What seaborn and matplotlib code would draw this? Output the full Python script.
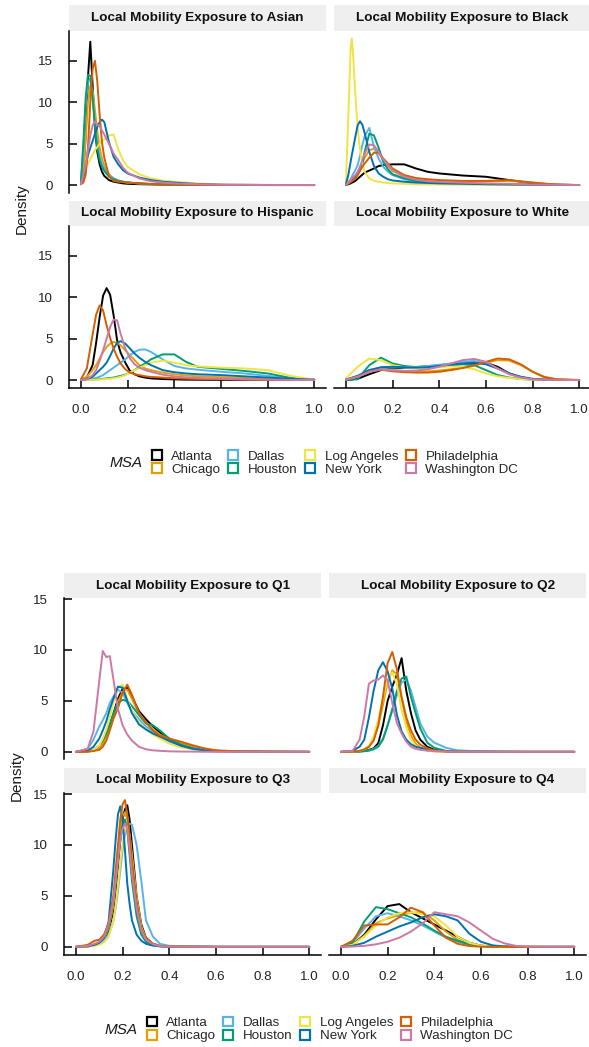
import numpy as np
import pandas as pd
import matplotlib
matplotlib.use("Agg")
import matplotlib.pyplot as plt
from matplotlib.patches import Patch
import seaborn as sns

# ---- data (density values at x positions) ------------------------------------
MSAS = ["Atlanta", "Chicago", "Dallas", "Houston", "Log Angeles",
        "New York", "Philadelphia", "Washington DC"]
COLORS = ["#000000", "#E69F00", "#56B4E9", "#009E73", "#F0E442",
          "#0072B2", "#D55E00", "#CC79A7"]

ASIAN_X = [0, 0.01, 0.02, 0.03, 0.04, 0.05, 0.06, 0.07, 0.08, 0.09, 0.10, 0.12,
           0.14, 0.16, 0.18, 0.20, 0.25, 0.30, 0.35, 0.40, 0.50, 0.60, 0.80, 1.00]
ASIAN = {
    "Atlanta":       [0.2, 1.5, 6, 13, 17.3, 12, 7, 4, 2.5, 1.6, 1.1, 0.6, 0.4, 0.3, 0.2, 0.15, 0.1, 0.08, 0.05, 0.04, 0.02, 0.01, 0, 0],
    "Chicago":       [0.2, 1.5, 5.5, 10, 12, 11.5, 9, 6.5, 4.5, 3.2, 2.3, 1.3, 0.8, 0.55, 0.4, 0.3, 0.2, 0.12, 0.08, 0.05, 0.02, 0.01, 0, 0],
    "Dallas":        [0.4, 4, 9.5, 12.5, 12.8, 10.5, 7.5, 5, 3.5, 2.6, 2, 1.2, 0.8, 0.55, 0.4, 0.3, 0.2, 0.12, 0.08, 0.05, 0.02, 0.01, 0, 0],
    "Houston":       [0.5, 5, 10.5, 13.3, 13.2, 10.5, 7, 4.5, 3, 2.2, 1.7, 1.0, 0.7, 0.5, 0.4, 0.3, 0.2, 0.12, 0.08, 0.05, 0.02, 0.01, 0, 0],
    "Log Angeles":   [0.1, 0.8, 1.8, 2.6, 3.1, 3.7, 4.2, 4.6, 5, 5.3, 5.5, 6, 6.1, 4.3, 3.0, 2.2, 1.3, 0.8, 0.55, 0.4, 0.2, 0.05, 0.01, 0],
    "New York":      [0.1, 0.8, 2.2, 3.6, 4.5, 5.3, 6.2, 7, 7.6, 7.9, 7.6, 5.2, 3.4, 2.5, 1.8, 1.4, 0.9, 0.6, 0.4, 0.3, 0.12, 0.04, 0.01, 0],
    "Philadelphia":  [0.1, 0.3, 1.2, 4.5, 10, 14, 15, 12.5, 8.5, 5.2, 3.3, 1.1, 0.5, 0.4, 0.35, 0.3, 0.2, 0.12, 0.08, 0.05, 0.02, 0.01, 0, 0],
    "Washington DC": [0.1, 1.2, 2.5, 4.2, 6, 7.2, 7.7, 7.3, 7.1, 6.6, 6.1, 5, 3.8, 3, 2.1, 1.5, 0.8, 0.45, 0.3, 0.2, 0.1, 0.04, 0.01, 0],
}

BLACK_X = [0, 0.01, 0.02, 0.025, 0.03, 0.04, 0.05, 0.06, 0.07, 0.08, 0.10, 0.12, 0.14,
           0.16, 0.18, 0.20, 0.25, 0.30, 0.35, 0.40, 0.50, 0.60, 0.70, 0.80, 0.90, 1.00]
BLACK = {
    "Atlanta":       [0.02, 0.1, 0.2, 0.28, 0.35, 0.5, 0.75, 1.0, 1.25, 1.5, 1.75, 2.0, 2.3, 2.4, 2.45, 2.5, 2.5, 2.0, 1.6, 1.4, 1.15, 1.0, 0.6, 0.2, 0.05, 0],
    "Chicago":       [0.05, 0.2, 0.4, 0.55, 0.7, 1.0, 1.5, 2.1, 2.7, 3.3, 4.2, 4.4, 3.9, 3.0, 2.3, 1.7, 1.0, 0.7, 0.55, 0.5, 0.45, 0.45, 0.5, 0.3, 0.05, 0],
    "Dallas":        [0.05, 0.3, 0.7, 1.0, 1.3, 1.8, 2.4, 3.5, 4.8, 5.9, 6.9, 4.6, 3.2, 2.2, 1.6, 1.2, 0.7, 0.45, 0.3, 0.22, 0.15, 0.1, 0.06, 0.03, 0.01, 0],
    "Houston":       [0.05, 0.2, 0.4, 0.6, 0.8, 1.1, 1.5, 1.9, 2.4, 4.0, 6.2, 6.0, 4.5, 2.8, 1.9, 1.3, 0.8, 0.5, 0.35, 0.3, 0.2, 0.12, 0.07, 0.03, 0.01, 0],
    "Log Angeles":   [0.3, 8.3, 16.5, 17.7, 16, 11, 7, 4.3, 2.7, 1.6, 0.8, 0.5, 0.4, 0.3, 0.25, 0.2, 0.15, 0.1, 0.08, 0.06, 0.04, 0.02, 0.01, 0, 0, 0],
    "New York":      [0.1, 1.2, 2.8, 3.6, 4.3, 5.8, 7.2, 7.7, 7.3, 6.3, 4, 2.3, 1.4, 1.0, 0.7, 0.55, 0.4, 0.3, 0.25, 0.2, 0.15, 0.1, 0.06, 0.03, 0.01, 0],
    "Philadelphia":  [0.05, 0.2, 0.35, 0.45, 0.55, 0.8, 1.2, 1.7, 2.2, 2.6, 3.3, 3.9, 3.9, 3.2, 2.6, 2.0, 1.2, 0.85, 0.7, 0.6, 0.5, 0.5, 0.6, 0.3, 0.05, 0],
    "Washington DC": [0.05, 0.3, 0.6, 0.8, 0.95, 1.2, 1.6, 2.2, 3, 3.8, 4.9, 4.8, 4.0, 3.1, 2.4, 1.8, 1.0, 0.65, 0.45, 0.38, 0.28, 0.2, 0.15, 0.06, 0.02, 0],
}

HISPANIC_X = [0, 0.025, 0.05, 0.065, 0.08, 0.095, 0.11, 0.125, 0.14, 0.155, 0.17, 0.19, 0.21,
              0.23, 0.25, 0.275, 0.3, 0.35, 0.4, 0.45, 0.5, 0.6, 0.7, 0.8, 0.9, 1.0]
HISPANIC = {
    "Atlanta":       [0.05, 0.3, 1.8, 4.5, 7.6, 10.2, 11.1, 10.3, 7.8, 4.8, 3.3, 2.1, 1.1, 0.7, 0.45, 0.3, 0.2, 0.12, 0.08, 0.05, 0.04, 0.02, 0.01, 0, 0, 0],
    "Chicago":       [0.05, 0.4, 1.2, 1.8, 2.6, 3.4, 4.0, 4.4, 4.6, 4.5, 4.2, 3.6, 3.0, 2.4, 1.8, 1.4, 1.2, 0.9, 0.7, 0.55, 0.45, 0.35, 0.25, 0.15, 0.06, 0.01],
    "Dallas":        [0, 0.05, 0.15, 0.25, 0.4, 0.6, 0.9, 1.2, 1.5, 1.8, 2.1, 2.5, 3.0, 3.4, 3.65, 3.7, 3.4, 2.5, 1.7, 1.4, 1.25, 1.0, 0.8, 0.5, 0.2, 0.05],
    "Houston":       [0, 0.02, 0.05, 0.08, 0.1, 0.15, 0.2, 0.25, 0.3, 0.4, 0.5, 0.65, 0.9, 1.2, 1.6, 2.0, 2.5, 3.1, 3.1, 2.2, 1.6, 1.35, 1.1, 0.8, 0.25, 0.05],
    "Log Angeles":   [0, 0.01, 0.03, 0.05, 0.07, 0.1, 0.13, 0.17, 0.22, 0.3, 0.4, 0.6, 0.9, 1.2, 1.45, 1.8, 2.1, 2.35, 2.1, 1.8, 1.65, 1.5, 1.4, 1.2, 0.5, 0.05],
    "New York":      [0, 0.1, 0.4, 0.8, 1.2, 1.6, 2.1, 2.9, 3.8, 4.5, 4.7, 4.4, 3.8, 3.2, 2.7, 2.2, 1.8, 1.2, 0.95, 0.8, 0.7, 0.6, 0.45, 0.3, 0.15, 0.05],
    "Philadelphia":  [0.1, 1.4, 5.5, 7.9, 9.0, 8.4, 6.6, 5.1, 3.8, 2.8, 2.0, 1.3, 0.9, 0.7, 0.6, 0.45, 0.38, 0.3, 0.22, 0.17, 0.13, 0.1, 0.06, 0.03, 0.01, 0],
    "Washington DC": [0, 0.1, 0.6, 1.2, 2.3, 3.6, 5.0, 6.4, 7.3, 7.2, 5.6, 3.8, 2.6, 1.9, 1.5, 1.2, 1.0, 0.65, 0.45, 0.32, 0.25, 0.15, 0.08, 0.04, 0.01, 0],
}

WHITE_X = [0, 0.05, 0.1, 0.15, 0.2, 0.25, 0.3, 0.35, 0.4, 0.45, 0.5, 0.55, 0.6,
           0.65, 0.7, 0.75, 0.8, 0.85, 0.9, 1.0]
WHITE = {
    "Atlanta":       [0, 0.15, 0.7, 1.2, 1.4, 1.5, 1.55, 1.65, 1.75, 1.85, 1.95, 2.05, 2.1, 1.6, 0.8, 0.3, 0.1, 0.03, 0.01, 0],
    "Chicago":       [0.05, 0.4, 1.0, 1.3, 1.2, 1.1, 1.05, 1.05, 1.15, 1.3, 1.5, 1.8, 2.1, 2.4, 2.35, 1.8, 1.0, 0.4, 0.1, 0],
    "Dallas":        [0.05, 0.5, 1.2, 1.5, 1.5, 1.55, 1.6, 1.7, 1.85, 2.0, 2.2, 2.3, 2.0, 1.4, 0.8, 0.35, 0.12, 0.04, 0.01, 0],
    "Houston":       [0, 0.1, 1.8, 2.7, 2.0, 1.7, 1.55, 1.5, 1.6, 1.8, 1.9, 1.8, 1.2, 0.6, 0.3, 0.12, 0.05, 0.02, 0.01, 0],
    "Log Angeles":   [0.2, 1.6, 2.6, 2.4, 1.8, 1.55, 1.5, 1.5, 1.55, 1.65, 1.6, 1.3, 0.8, 0.45, 0.25, 0.12, 0.05, 0.02, 0.01, 0],
    "New York":      [0.05, 0.5, 1.2, 1.55, 1.6, 1.55, 1.5, 1.55, 1.7, 1.85, 2.0, 2.1, 1.9, 1.4, 0.8, 0.4, 0.15, 0.05, 0.02, 0],
    "Philadelphia":  [0.05, 0.4, 1.0, 1.25, 1.05, 0.95, 0.9, 0.9, 1.0, 1.2, 1.45, 1.75, 2.2, 2.6, 2.5, 1.9, 1.0, 0.35, 0.1, 0],
    "Washington DC": [0.05, 0.4, 1.0, 1.3, 1.15, 1.1, 1.15, 1.3, 1.6, 2.0, 2.4, 2.55, 2.2, 1.4, 0.7, 0.3, 0.1, 0.03, 0.01, 0],
}

Q1_X = [0, 0.05, 0.075, 0.1, 0.115, 0.13, 0.145, 0.16, 0.18, 0.2, 0.22, 0.24,
        0.27, 0.3, 0.33, 0.36, 0.4, 0.45, 0.5, 0.55, 0.6, 0.7, 0.8, 1.0]
Q1 = {
    "Atlanta":       [0, 0.05, 0.15, 0.5, 1.0, 1.7, 2.6, 3.7, 5.2, 6.2, 6.3, 5.4, 4.0, 3.2, 2.5, 1.9, 1.3, 0.8, 0.45, 0.2, 0.1, 0.04, 0.01, 0],
    "Chicago":       [0, 0.03, 0.12, 0.35, 0.8, 1.5, 2.4, 3.5, 4.9, 5.9, 6.1, 5.2, 3.8, 2.9, 2.2, 1.7, 1.2, 0.8, 0.45, 0.2, 0.1, 0.04, 0.01, 0],
    "Dallas":        [0, 0.3, 1.2, 2.5, 3.1, 3.8, 4.8, 5.4, 6.1, 5.8, 4.8, 4.0, 3.2, 2.5, 2.0, 1.5, 1.0, 0.6, 0.35, 0.2, 0.1, 0.04, 0.01, 0],
    "Houston":       [0, 0.05, 0.2, 0.6, 1.1, 1.8, 2.7, 3.7, 4.8, 5.1, 5.0, 4.5, 3.6, 2.8, 2.6, 2.1, 1.3, 0.7, 0.35, 0.15, 0.08, 0.03, 0.01, 0],
    "Log Angeles":   [0, 0.05, 0.2, 0.6, 1.3, 2.2, 3.4, 4.8, 6.3, 6.6, 5.2, 4.0, 2.9, 2.2, 1.7, 1.3, 0.8, 0.45, 0.25, 0.12, 0.06, 0.02, 0.01, 0],
    "New York":      [0, 0.1, 0.5, 1.3, 2.1, 3.0, 4.2, 5.2, 6.4, 6.3, 5.0, 3.8, 2.7, 2.2, 1.8, 1.5, 1.1, 0.6, 0.3, 0.15, 0.08, 0.03, 0.01, 0],
    "Philadelphia":  [0, 0.02, 0.08, 0.2, 0.5, 1.1, 2.1, 3.2, 4.3, 5.8, 6.6, 5.6, 3.8, 2.9, 2.1, 1.6, 1.3, 1.0, 0.65, 0.35, 0.15, 0.05, 0.02, 0],
    "Washington DC": [0, 0.3, 2.0, 7.0, 9.9, 9.3, 9.4, 7.2, 4.2, 2.6, 1.7, 1.1, 0.5, 0.25, 0.15, 0.1, 0.05, 0.03, 0.02, 0.01, 0, 0, 0, 0],
}

Q2_X = [0, 0.05, 0.08, 0.1, 0.12, 0.14, 0.16, 0.18, 0.2, 0.22, 0.24, 0.26,
        0.28, 0.3, 0.32, 0.34, 0.37, 0.4, 0.45, 0.5, 0.6, 0.8, 1.0]
Q2 = {
    "Atlanta":       [0, 0.01, 0.05, 0.1, 0.2, 0.35, 0.85, 2.6, 5.0, 6.4, 7.6, 9.2, 6.0, 3.8, 2.1, 1.2, 0.5, 0.2, 0.06, 0.02, 0.01, 0, 0],
    "Chicago":       [0, 0.02, 0.08, 0.2, 0.5, 1.2, 2.6, 4.6, 6.8, 8.0, 7.6, 5.2, 3.0, 1.6, 0.8, 0.4, 0.15, 0.06, 0.02, 0.01, 0, 0, 0],
    "Dallas":        [0, 0.01, 0.04, 0.08, 0.15, 0.3, 0.6, 1.3, 2.6, 4.0, 5.6, 6.8, 7.1, 6.0, 4.4, 2.8, 1.5, 0.9, 0.4, 0.15, 0.04, 0, 0],
    "Houston":       [0, 0.01, 0.03, 0.06, 0.12, 0.25, 0.5, 1.2, 2.6, 4.2, 6.0, 7.2, 7.4, 5.4, 3.8, 2.3, 0.9, 0.4, 0.1, 0.03, 0.01, 0, 0],
    "Log Angeles":   [0, 0.02, 0.1, 0.25, 0.6, 1.5, 3.2, 5.2, 7.2, 7.8, 6.6, 4.1, 2.4, 1.2, 0.6, 0.3, 0.12, 0.05, 0.02, 0.01, 0, 0, 0],
    "New York":      [0, 0.1, 0.5, 1.2, 3.4, 6.0, 8.0, 8.8, 7.9, 6.2, 3.6, 2.0, 1.2, 0.75, 0.5, 0.4, 0.25, 0.15, 0.06, 0.02, 0.01, 0, 0],
    "Philadelphia":  [0, 0.02, 0.1, 0.25, 0.5, 1.1, 2.6, 5.4, 8.7, 9.8, 8.1, 5.4, 3.4, 2.1, 1.2, 0.7, 0.35, 0.15, 0.05, 0.02, 0.01, 0, 0],
    "Washington DC": [0, 0.1, 1.2, 3.5, 6.7, 7.0, 7.1, 7.5, 7.0, 4.8, 2.8, 1.8, 1.0, 0.5, 0.3, 0.2, 0.12, 0.07, 0.03, 0.01, 0, 0, 0],
}

Q3_X = [0, 0.05, 0.08, 0.1, 0.12, 0.14, 0.16, 0.17, 0.18, 0.19, 0.2, 0.21,
        0.22, 0.23, 0.24, 0.26, 0.28, 0.3, 0.33, 0.36, 0.4, 0.6, 1.0]
Q3 = {
    "Atlanta":       [0, 0.05, 0.2, 0.4, 0.8, 1.6, 3.5, 5.5, 8.0, 10.5, 12.5, 13.5, 13.9, 12.5, 10.0, 5.0, 2.2, 0.9, 0.3, 0.1, 0.03, 0, 0],
    "Chicago":       [0, 0.05, 0.2, 0.35, 0.8, 1.8, 4.0, 6.2, 8.8, 11.2, 12.8, 13.2, 12.5, 10.5, 8.0, 4.0, 1.6, 0.6, 0.2, 0.06, 0.02, 0, 0],
    "Dallas":        [0, 0.05, 0.15, 0.3, 0.6, 1.2, 2.5, 3.8, 5.5, 7.5, 9.5, 11.0, 11.8, 12.1, 12.0, 10.0, 6.5, 2.6, 1.0, 0.3, 0.1, 0, 0],
    "Houston":       [0, 0.05, 0.2, 0.4, 0.9, 2.0, 4.5, 6.5, 8.5, 10.5, 12.0, 12.5, 11.5, 9.0, 6.5, 3.0, 1.2, 0.5, 0.2, 0.06, 0.02, 0, 0],
    "Log Angeles":   [0, 0.02, 0.1, 0.2, 0.45, 1.0, 2.5, 4.0, 6.0, 8.2, 10.2, 11.5, 11.8, 11.0, 9.0, 4.8, 2.0, 0.8, 0.3, 0.1, 0.03, 0, 0],
    "New York":      [0, 0.05, 0.2, 0.4, 0.9, 2.5, 7.5, 10.5, 13.0, 13.8, 12.5, 9.5, 6.2, 4.2, 2.6, 1.2, 0.6, 0.3, 0.12, 0.05, 0.02, 0, 0],
    "Philadelphia":  [0, 0.2, 0.6, 0.7, 1.2, 2.3, 5.0, 7.5, 10.0, 12.5, 14.0, 14.4, 13.0, 11.0, 8.5, 4.5, 1.8, 0.8, 0.3, 0.1, 0.03, 0, 0],
    "Washington DC": [0, 0.1, 0.3, 0.5, 1.0, 2.2, 4.5, 6.5, 8.5, 10.5, 11.6, 12.1, 11.6, 9.5, 7.2, 3.8, 1.6, 0.7, 0.25, 0.08, 0.02, 0, 0],
}

Q4_X = [0, 0.05, 0.1, 0.15, 0.2, 0.25, 0.3, 0.35, 0.4, 0.45, 0.5, 0.55, 0.6,
        0.65, 0.7, 0.75, 0.8, 0.9, 1.0]
Q4 = {
    "Atlanta":       [0, 0.2, 1.2, 2.7, 4.0, 4.2, 3.4, 2.8, 2.2, 1.6, 1.0, 0.4, 0.12, 0.04, 0.01, 0, 0, 0, 0],
    "Chicago":       [0, 0.2, 1.1, 2.3, 2.8, 3.1, 3.35, 3.4, 2.6, 1.5, 0.7, 0.25, 0.07, 0.02, 0, 0, 0, 0, 0],
    "Dallas":        [0, 0.4, 1.8, 3.0, 3.3, 3.0, 2.6, 2.1, 1.5, 0.9, 0.5, 0.2, 0.06, 0.01, 0, 0, 0, 0, 0],
    "Houston":       [0, 0.4, 2.5, 3.9, 3.7, 3.3, 2.9, 2.3, 1.6, 1.0, 0.6, 0.25, 0.08, 0.02, 0, 0, 0, 0, 0],
    "Log Angeles":   [0, 0.2, 1.0, 2.1, 2.9, 3.3, 3.4, 3.2, 3.0, 2.1, 1.0, 0.4, 0.12, 0.03, 0, 0, 0, 0, 0],
    "New York":      [0, 0.1, 0.4, 1.0, 1.5, 2.0, 2.4, 2.9, 3.2, 3.0, 2.6, 1.3, 0.5, 0.15, 0.04, 0.01, 0, 0, 0],
    "Philadelphia":  [0, 0.6, 2.1, 2.2, 2.2, 2.9, 3.85, 3.4, 2.1, 0.9, 0.3, 0.08, 0.02, 0, 0, 0, 0, 0, 0],
    "Washington DC": [0, 0.03, 0.1, 0.25, 0.5, 0.9, 1.5, 2.3, 3.4, 3.2, 3.0, 2.4, 1.6, 0.8, 0.35, 0.1, 0.02, 0, 0],
}

X_TICKS = [0.0, 0.2, 0.4, 0.6, 0.8, 1.0]
Y_TICKS = [0, 5, 10, 15]

# ---- layout (pixels) ---------------------------------------------------------
W, H = 589, 1047
PW = 256.6
FS = 9.6

sns.set_theme(style="white")
plt.rcParams["font.family"] = ["Liberation Sans", "DejaVu Sans"]
fig = plt.figure(figsize=(W / 100, H / 100), dpi=100)


def box(x0, y0, x1, y1):
    return [x0 / W, 1 - y1 / H, (x1 - x0) / W, (y1 - y0) / H]


def long_df(xs, curves):
    rows = [pd.DataFrame({"x": xs, "density": curves[m], "MSA": m}) for m in MSAS]
    return pd.concat(rows, ignore_index=True)


def facet(x0, strip, pan, title, xs, curves, ylim, left, bottom):
    s = fig.add_axes(box(x0, strip[0], x0 + PW, strip[1]))
    s.set_facecolor("#EFEFEF")
    s.set_xticks([]); s.set_yticks([])
    for sp in s.spines.values():
        sp.set_visible(False)
    s.text(0.5, 0.5, title, ha="center", va="center", fontsize=9.7,
           fontweight="bold", color="#111111", transform=s.transAxes)

    ax = fig.add_axes(box(x0, pan[0], x0 + PW, pan[1]))
    sns.lineplot(data=long_df(xs, curves), x="x", y="density", hue="MSA",
                 hue_order=MSAS, palette=COLORS, ax=ax, legend=False,
                 linewidth=1.4, estimator=None, sort=False)
    ax.set_xlim(-0.05, 1.05)
    ax.set_ylim(*ylim)
    ax.set_xlabel(""); ax.set_ylabel("")
    ax.set_facecolor("white")
    for sp in ["top", "right"]:
        ax.spines[sp].set_visible(False)
    ax.spines["left"].set_visible(left)
    ax.spines["bottom"].set_visible(bottom)
    for sp in ["left", "bottom"]:
        ax.spines[sp].set_color("black")
        ax.spines[sp].set_linewidth(1.1)
    ax.set_xticks(X_TICKS)
    ax.set_yticks(Y_TICKS)
    ax.tick_params(axis="both", which="major", direction="in", length=5.8,
                   width=1.1, color="black", labelsize=FS,
                   labelcolor="#222222", pad=12)
    ax.tick_params(axis="y", left=left, labelleft=left)
    ax.tick_params(axis="x", bottom=bottom, labelbottom=bottom)
    ax.xaxis.set_major_formatter(matplotlib.ticker.FormatStrFormatter("%.1f"))


def legend(x_key, y_mid, x_title):
    handles = [Patch(facecolor="white", edgecolor=c, linewidth=1.6) for c in COLORS]
    fig.legend(handles, MSAS, ncol=4, loc="center left",
               bbox_to_anchor=(x_key / W, 1 - y_mid / H), frameon=False,
               fontsize=FS, handlelength=0.75, handleheight=0.75,
               handletextpad=0.7, columnspacing=0.6, labelspacing=0.05,
               borderpad=0, borderaxespad=0)
    fig.text(x_title / W, 1 - y_mid / H, "MSA", style="italic", fontsize=11,
             ha="left", va="center", color="#1A1A1A")


# top figure: race/ethnicity
TOP_Y = (-0.9, 18.6)
facet(69.3, (5, 31), (31, 192.5), "Local Mobility Exposure to Asian",
      ASIAN_X, ASIAN, TOP_Y, True, False)
facet(334.3, (5, 31), (31, 192.5), "Local Mobility Exposure to Black",
      BLACK_X, BLACK, TOP_Y, False, False)
facet(69.3, (200.5, 226), (226, 387.5), "Local Mobility Exposure to Hispanic",
      HISPANIC_X, HISPANIC, TOP_Y, True, True)
facet(334.3, (200.5, 226), (226, 387.5), "Local Mobility Exposure to White",
      WHITE_X, WHITE, TOP_Y, False, True)
fig.text(22 / W, 1 - 209 / H, "Density", rotation=90, ha="center", va="center",
         fontsize=11, color="#1A1A1A")
legend(152, 463, 110)

# bottom figure: income quartiles
BOT_Y = (-0.75, 15.1)
facet(64.3, (573, 598), (598, 759.5), "Local Mobility Exposure to Q1",
      Q1_X, Q1, BOT_Y, True, False)
facet(329.3, (573, 598), (598, 759.5), "Local Mobility Exposure to Q2",
      Q2_X, Q2, BOT_Y, False, False)
facet(64.3, (767.5, 793), (793, 954.5), "Local Mobility Exposure to Q3",
      Q3_X, Q3, BOT_Y, True, True)
facet(329.3, (767.5, 793), (793, 954.5), "Local Mobility Exposure to Q4",
      Q4_X, Q4, BOT_Y, False, True)
fig.text(17 / W, 1 - 776 / H, "Density", rotation=90, ha="center", va="center",
         fontsize=11, color="#1A1A1A")
legend(147, 1029.5, 105)

fig.savefig("out.png", dpi=100, facecolor="white")
